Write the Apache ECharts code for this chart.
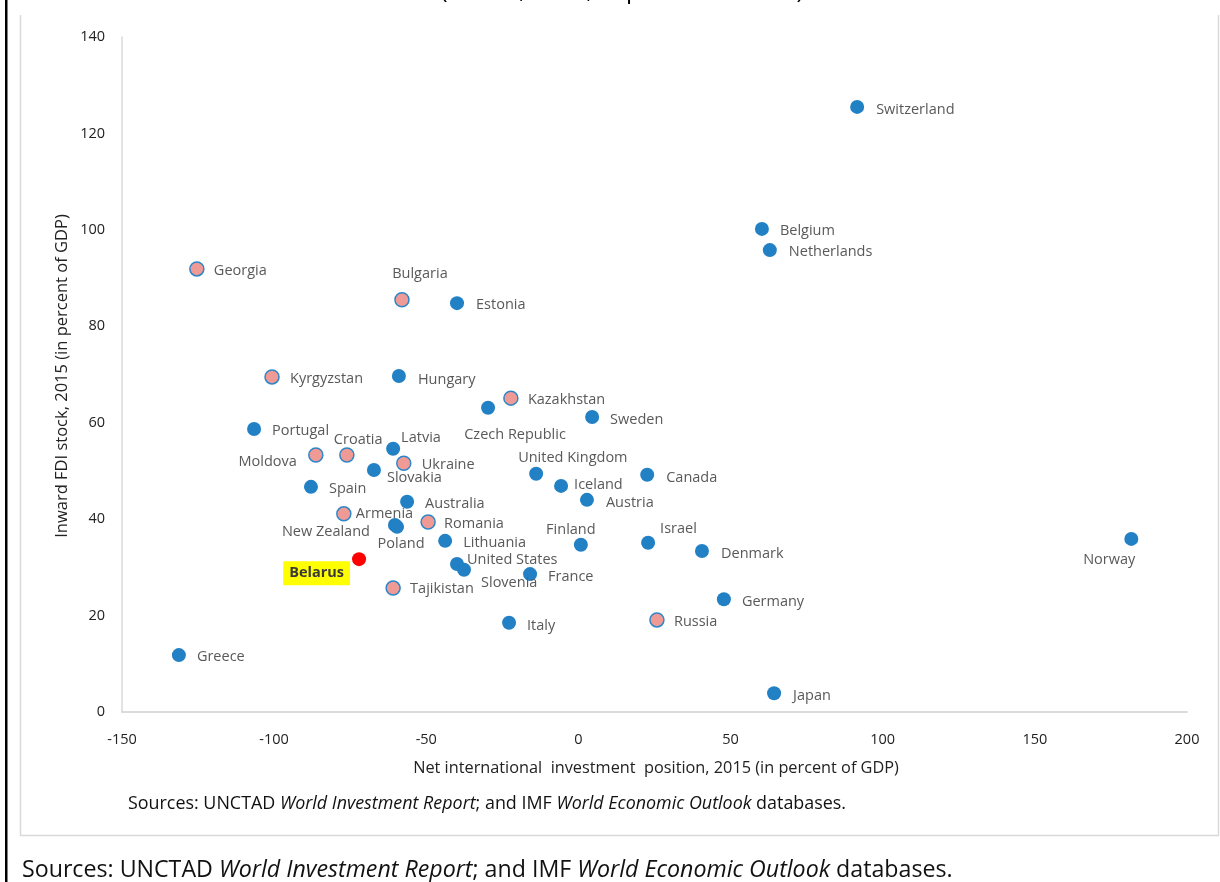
<!DOCTYPE html>
<html><head><meta charset="utf-8">
<script src="https://cdn.jsdelivr.net/npm/echarts@6/dist/echarts.min.js"></script>
<style>html,body{margin:0;padding:0;background:#fff}#c{width:1220px;height:882px}</style>
</head><body><div id="c"></div>
<script>
// ---- data ----
const countries = ['Switzerland','Belgium','Netherlands','Georgia','Bulgaria','Estonia','Kyrgyzstan','Hungary','Kazakhstan','Czech Republic','Sweden','Portugal','Latvia','Croatia','Moldova','Ukraine','Slovakia','United Kingdom','Canada','Iceland','Spain','Austria','Australia','Armenia','Romania','New Zealand','Poland','Lithuania','Finland','Israel','Denmark','Norway','Belarus','United States','Slovenia','France','Tajikistan','Germany','Italy','Russia','Greece','Japan'];
const niip = [91.6,60.3,62.9,-125.4,-58.0,-39.9,-100.7,-59.0,-22.2,-29.7,4.5,-106.6,-60.9,-76.1,-86.3,-57.4,-67.2,-13.9,22.6,-5.7,-87.9,2.8,-56.3,-77.1,-49.4,-60.3,-59.6,-43.8,0.8,22.9,40.6,181.7,-72.1,-39.9,-37.6,-15.9,-60.9,47.8,-22.8,25.8,-131.3,64.3];
const fdi = [125.5,100.2,95.8,91.9,85.5,84.8,69.5,69.7,65.1,63.1,61.2,58.7,54.6,53.3,53.3,51.6,50.2,49.4,49.2,46.9,46.7,44.0,43.6,41.1,39.4,38.8,38.4,35.5,34.7,35.1,33.4,35.9,31.7,30.7,29.5,28.6,25.7,23.4,18.5,19.1,11.8,3.9];
const pinkGroup = ['Georgia','Bulgaria','Kyrgyzstan','Kazakhstan','Croatia','Moldova','Ukraine','Armenia','Romania','Tajikistan','Russia'];
const highlight = ['Belarus'];
const xTicks = [-150,-100,-50,0,50,100,150,200];
const yTicks = [0,20,40,60,80,100,120,140];

// ---- label placement (pixel offsets from marker centre, alignment) ----
const labelPlace = {
  'Switzerland':[19,3,'left'],'Belgium':[18,2,'left'],'Netherlands':[19,2,'left'],'Georgia':[17,2,'left'],
  'Bulgaria':[18,-26,'center'],'Estonia':[19,2,'left'],'Kyrgyzstan':[18,2,'left'],'Hungary':[19,4,'left'],
  'Kazakhstan':[17,2,'left'],'Czech Republic':[27,27,'center'],'Sweden':[18,3,'left'],'Portugal':[18,2,'left'],
  'Latvia':[8,-11,'left'],'Croatia':[-13,-15,'left'],'Moldova':[-19,7,'right'],'Ukraine':[18,2,'left'],
  'Slovakia':[13,8,'left'],'United Kingdom':[-18,-16,'left'],'Canada':[19,3,'left'],'Iceland':[13,-1,'left'],
  'Spain':[18,2,'left'],'Austria':[19,3,'left'],'Australia':[18,2,'left'],'Armenia':[12,0,'left'],
  'Romania':[16,2,'left'],'New Zealand':[-25,7,'right'],'Poland':[4,17,'center'],'Lithuania':[18,2,'left'],
  'Finland':[-10,-15,'center'],'Israel':[12,-14,'left'],'Denmark':[19,3,'left'],'Norway':[4,21,'right'],
  'Belarus':[-9,14,'right'],'United States':[10,-4,'left'],'Slovenia':[17,13,'left'],'France':[18,3,'left'],
  'Tajikistan':[17,1,'left'],'Germany':[18,3,'left'],'Italy':[18,3,'left'],'Russia':[17,2,'left'],
  'Greece':[18,2,'left'],'Japan':[19,3,'left']
};

const FONT = '"Open Sans", "Noto Sans", sans-serif';
const BLUE = '#2280C4';

function makeItem(i){
  const p = labelPlace[countries[i]];
  return {name: countries[i], value:[niip[i], fdi[i]],
    label:{offset:[p[0],p[1]], align:p[2]}};
}
const blueData = [], pinkData = [], redData = [];
countries.forEach((c,i)=>{
  if (highlight.includes(c)) redData.push(makeItem(i));
  else if (pinkGroup.includes(c)) pinkData.push(makeItem(i));
  else blueData.push(makeItem(i));
});

const baseLabel = {show:true, position:'inside', formatter:'{b}', color:'#595959',
  fontFamily:FONT, fontSize:14.5, verticalAlign:'middle'};

const SRC = '{n|Sources: UNCTAD }{i|World Investment Report}{n|; and IMF }{i|World Economic Outlook}{n| databases.}';

const chart = echarts.init(document.getElementById('c'), null, {renderer:'canvas'});
chart.setOption({
  animation:false,
  backgroundColor:'#fff',
  grid:{left:122, right:33, top:37, bottom:170, containLabel:false},
  xAxis:{type:'value', min:xTicks[0], max:xTicks[xTicks.length-1], interval:50,
    axisLine:{show:true, onZero:false, lineStyle:{color:'#d0d0d0', width:1.5}},
    axisTick:{show:false}, splitLine:{show:false},
    axisLabel:{color:'#222', fontFamily:FONT, fontSize:14.5, margin:20}},
  yAxis:{type:'value', min:yTicks[0], max:yTicks[yTicks.length-1], interval:20,
    axisLine:{show:true, onZero:false, lineStyle:{color:'#d9d9d9', width:1.5}},
    axisTick:{show:false}, splitLine:{show:false},
    axisLabel:{color:'#222', fontFamily:FONT, fontSize:14.5, margin:17}},
  series:[
    {type:'scatter', name:'blue', symbolSize:14, data:blueData,
      itemStyle:{color:BLUE, opacity:1}, label:baseLabel},
    {type:'scatter', name:'pink', symbolSize:14, data:pinkData,
      itemStyle:{color:'#F09A96', borderColor:'#2E86C8', borderWidth:1.5, opacity:1}, label:baseLabel},
    {type:'scatter', name:'red', symbolSize:14, data:redData,
      itemStyle:{color:'#FF0000', opacity:1},
      label:Object.assign({}, baseLabel, {fontWeight:'bold', color:'#3a3a3a', backgroundColor:'#FFFF00', padding:[5,6,4,6]})}
  ],
  graphic:[
    {type:'polyline', shape:{points:[[20.5,15],[20.5,835.5],[1218.5,835.5],[1218.5,15]]},
      style:{fill:null, stroke:'#d9d9d9', lineWidth:1.5}, silent:true},
    {type:'text', x:622, y:3, style:{text:'(Stocks, 2015, in percent of GDP)', font:'24px '+FONT,
      fill:'#000', align:'center', verticalAlign:'bottom'}, silent:true},
    {type:'text', x:62, y:376, rotation:Math.PI/2, style:{text:'Inward FDI stock, 2015 (in percent of GDP)',
      font:'16.5px '+FONT, fill:'#222', align:'center', verticalAlign:'middle'}, silent:true},
    {type:'text', x:656, y:768, style:{text:'Net international  investment  position, 2015 (in percent of GDP)',
      font:'16.3px '+FONT, fill:'#222', align:'center', verticalAlign:'middle'}, silent:true},
    {type:'text', x:128, y:804, style:{text:SRC,
      rich:{n:{fontFamily:FONT, fontSize:17.9, fill:'#111'}, i:{fontFamily:FONT, fontSize:17.9, fontStyle:'italic', fill:'#111'}},
      align:'left', verticalAlign:'middle'}, silent:true},
    {type:'text', x:22, y:870, style:{text:SRC,
      rich:{n:{fontFamily:FONT, fontSize:23.2, fill:'#111'}, i:{fontFamily:FONT, fontSize:23.2, fontStyle:'italic', fill:'#111'}},
      align:'left', verticalAlign:'middle'}, silent:true},
    {type:'rect', shape:{x:5, y:0, width:2.5, height:882}, style:{fill:'#000'}, silent:true, z:100}
  ]
});
</script></body></html>
